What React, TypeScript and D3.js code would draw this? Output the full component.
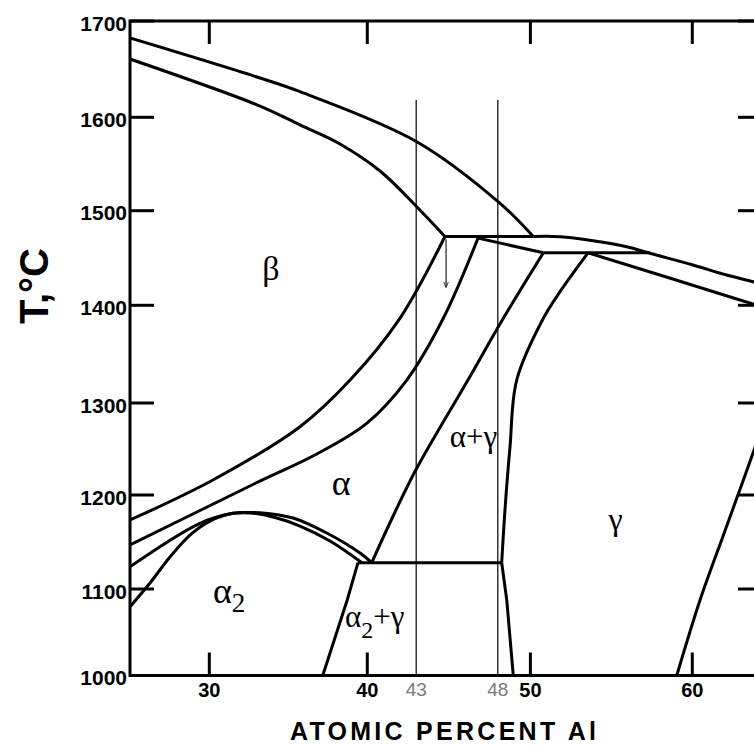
import React from 'react';
import * as d3 from 'd3';

// ---- axis ticks ----
const yTicks = [1000, 1100, 1200, 1300, 1400, 1500, 1600, 1700];
const xTicks = [30, 40, 50, 60];
const markedCompositions = [43, 48];

// ---- phase boundaries [at.% Al, T °C] ----
const liquidusBeta = [[25, 1682.3], [33.21, 1640.8], [35.74, 1626.6], [43.03, 1573.9], [48.14, 1507.9], [50.18, 1472.7]];
const liquidusRight = [[50.18, 1472.7], [51.83, 1472.5], [53.87, 1468.3], [55.95, 1461.9], [57.39, 1455.0], [60.04, 1442.6], [62.12, 1432.0], [63.76, 1424.9], [64.6, 1420.5]];
const betaSolidus = [[25, 1660.5], [33.21, 1611.7], [35.74, 1591.8], [38.27, 1571.4], [40.78, 1542.5], [43.03, 1504.3], [44.76, 1472.7]];
const peritecticBeta = [[44.76, 1472.7], [50.18, 1472.7]];
const alphaSolidus = [[46.79, 1471], [50.8, 1455.5]];
const peritecticGamma = [[50.8, 1455.5], [57.39, 1455.5]];
const gammaSolidus = [[53.56, 1455.5], [58.0, 1432], [62.94, 1405.6], [64.6, 1397]];
const betaTransus = [[44.76, 1472.7], [42.0, 1386.7], [38.91, 1323.5], [35.74, 1274.2], [30.23, 1216.3], [25, 1173.4]];
const alphaTransus = [[46.79, 1471], [44.66, 1386.7], [42.42, 1323.5], [39.96, 1277.9], [36.8, 1244.6], [32.89, 1212.5], [25, 1146.8]];
const alphaGammaBoundary = [[50.8, 1455.5], [48.34, 1386.7], [46.17, 1323.5], [43.03, 1229.0], [41.7, 1181.9], [40.27, 1128]];
const gammaUpper = [[53.56, 1455.5], [51.83, 1414.4], [50.8, 1386.7], [49.16, 1323.5], [48.75, 1252.5], [48.44, 1184], [48.24, 1128]];
const gammaLower = [[48.24, 1128], [48.55, 1087.3], [48.95, 1000]];
const eutectoid = [[39.41, 1128], [48.24, 1128]];
const alpha2Gamma = [[39.41, 1128], [38.73, 1087.3], [37.18, 1000]];
const alphaDome = [[25, 1123.7], [29.41, 1169.9], [31.5, 1180.5], [32.39, 1181.4], [33.21, 1181.2], [35.3, 1175.5], [37.43, 1159.6], [39.54, 1138.3], [40.27, 1128]];
const alpha2Dome = [[25, 1079.5], [26.26, 1106.4], [27.52, 1134.0], [28.78, 1157.4], [30.04, 1172.3], [31.5, 1180.5], [32.58, 1180.9], [34.16, 1176.1], [35.74, 1167.0], [37.64, 1151.1], [39.66, 1128]];
const gammaRight = [[59.04, 1000], [60.48, 1087.3], [62.08, 1164.9], [63.81, 1248.9], [64.55, 1288.0]];
const arrowLine = [[44.83, 1469.8], [44.83, 1419.3]];
const guideTop = 1618;

const curved = [liquidusBeta, liquidusRight, betaSolidus, betaTransus, alphaTransus, alphaGammaBoundary, gammaUpper, alphaDome, alpha2Dome, gammaRight];
const straight = [peritecticBeta, alphaSolidus, peritecticGamma, gammaSolidus, gammaLower, eutectoid, alpha2Gamma];

// label anchors [at.% Al, T]
const labelBeta = [33.9, 1426.7];
const labelAlpha = [38.34, 1200];
const labelAlphaGamma = [46.51, 1252.2];
const labelGamma = [55.26, 1162.8];
const labelAlpha2 = [30.23, 1084.2];
const labelAlpha2Gamma = [38.59, 1056];

export default function App() {
  const W = 754, H = 746;
  const x = d3.scaleLinear().domain([25, 30, 40, 50, 60, 64.3]).range([130, 209.3, 367.3, 530.4, 692.3, 762]);
  const y = d3.scaleLinear().domain(yTicks).range([675.5, 589, 495, 403, 305.3, 210.7, 117.3, 21]);
  const left = x(25), right = x(64.3), top = y(1700), bottom = y(1000);

  const lineCurve = d3.line<number[]>().x(d => x(d[0])).y(d => y(d[1])).curve(d3.curveCatmullRom.alpha(0.5));
  const lineStraight = d3.line<number[]>().x(d => x(d[0])).y(d => y(d[1]));

  const sans = '"Liberation Sans", Arial, sans-serif';
  const serif = '"Liberation Serif", "Times New Roman", "DejaVu Serif", serif';

  return (
    <svg width={W} height={H} style={{ position: 'absolute', left: 0, top: 0, background: '#fff' }}>
      <defs>
        <clipPath id="plot">
          <rect x={left} y={top} width={right - left} height={bottom - top} />
        </clipPath>
        <marker id="arr" viewBox="0 0 10 10" refX="9" refY="5" markerWidth="5" markerHeight="7" orient="auto">
          <path d="M0,1 L10,5 L0,9" fill="none" stroke="#222" strokeWidth="1.5" />
        </marker>
      </defs>

      {/* guide verticals */}
      {markedCompositions.map(c => (
        <line key={c} x1={x(c)} x2={x(c)} y1={y(guideTop)} y2={bottom} stroke="#333" strokeWidth={1.5} />
      ))}

      <g clipPath="url(#plot)" fill="none" stroke="#000" strokeWidth={3} strokeLinejoin="round">
        {curved.map((d, i) => <path key={'c' + i} d={lineCurve(d) || ''} />)}
        {straight.map((d, i) => <path key={'s' + i} d={lineStraight(d) || ''} />)}
      </g>

      <path d={lineStraight(arrowLine) || ''} stroke="#222" strokeWidth={1.2} fill="none" markerEnd="url(#arr)" />

      {/* frame */}
      <rect x={left} y={top} width={right - left} height={bottom - top} fill="none" stroke="#000" strokeWidth={3} />

      {/* y ticks */}
      {yTicks.map(t => (
        <g key={t}>
          <line x1={left} x2={left + 24} y1={y(t)} y2={y(t)} stroke="#000" strokeWidth={3} />
          <line x1={right} x2={right - 24} y1={y(t)} y2={y(t)} stroke="#000" strokeWidth={3} />
          <text x={127} y={y(t) + 9.5} textAnchor="end" fontFamily={sans} fontWeight="bold" fontSize={21} fill="#000">{t}</text>
        </g>
      ))}

      {/* x ticks */}
      {xTicks.map(t => (
        <g key={t}>
          <line x1={x(t)} x2={x(t)} y1={bottom} y2={bottom - 23} stroke="#000" strokeWidth={3} />
          <line x1={x(t)} x2={x(t)} y1={top} y2={top + 23} stroke="#000" strokeWidth={3} />
          <text x={x(t)} y={697} textAnchor="middle" fontFamily={sans} fontWeight="bold" fontSize={20} fill="#000">{t}</text>
        </g>
      ))}
      {markedCompositions.map(c => (
        <text key={'m' + c} x={x(c)} y={695.5} textAnchor="middle" fontFamily={sans} fontSize={19} fill="#7a7a7a">{c}</text>
      ))}

      {/* axis titles */}
      <text x={443} y={740} textAnchor="middle" fontFamily={sans} fontWeight="bold" fontSize={25} textLength={306} lengthAdjust="spacing" fill="#000">ATOMIC PERCENT Al</text>
      <text transform="translate(48,286) rotate(-90)" textAnchor="middle" fontFamily={sans} fontWeight="bold" fontSize={40} fill="#000">T,°C</text>

      {/* phase labels */}
      <g fontFamily={serif} fill="#000">
        <text x={x(labelBeta[0])} y={y(labelBeta[1])} textAnchor="middle" fontSize={34}>β</text>
        <text x={x(labelAlpha[0])} y={y(labelAlpha[1])} textAnchor="middle" fontSize={36}>α</text>
        <text x={x(labelAlphaGamma[0])} y={y(labelAlphaGamma[1])} textAnchor="middle" fontSize={31}>α+γ</text>
        <text x={x(labelGamma[0])} y={y(labelGamma[1])} textAnchor="middle" fontSize={32}>γ</text>
        <text x={x(labelAlpha2[0])} y={y(labelAlpha2[1])} fontSize={36}>
          α<tspan fontSize={27} dy={9.5}>2</tspan>
        </text>
        <text x={x(labelAlpha2Gamma[0])} y={y(labelAlpha2Gamma[1])} fontSize={31}>
          α<tspan fontSize={24} dy={11}>2</tspan><tspan dy={-11}>+γ</tspan>
        </text>
      </g>
    </svg>
  );
}
